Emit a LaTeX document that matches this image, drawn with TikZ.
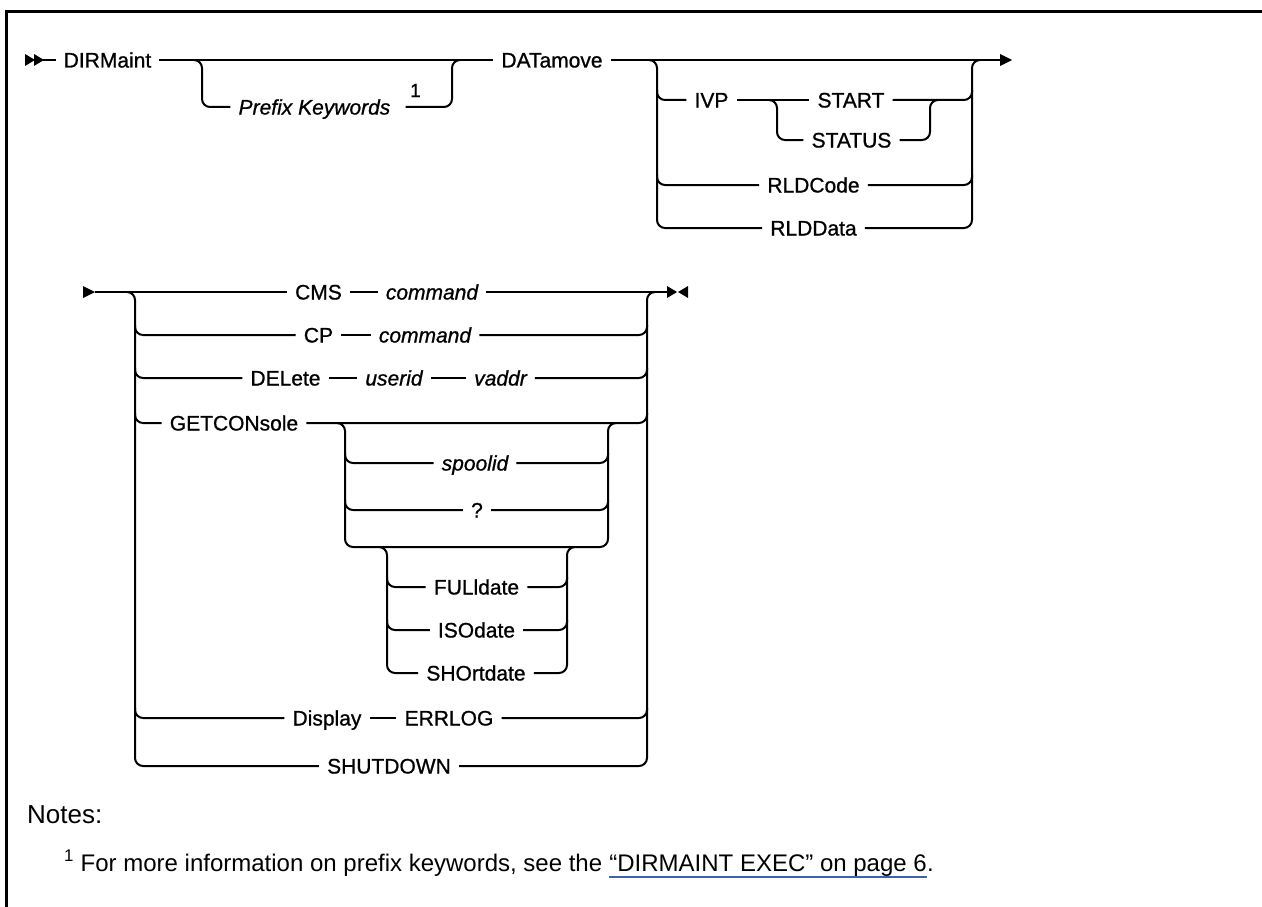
\documentclass[tikz,border=0pt]{standalone}
\usepackage{fontspec}
\setmainfont{Liberation Sans}
\newfontfamily\railfont{Liberation Sans}[FakeBold=0.9]

\definecolor{linkblue}{RGB}{62,98,178}

\tikzset{
  rail/.style={line width=2pt, rounded corners=8pt},
  kw/.style={font=\railfont\fontsize{21}{25}\selectfont, inner xsep=8pt, inner ysep=0pt,
    text height=15pt, text depth=0pt},
  var/.style={kw, font=\railfont\fontsize{21}{25}\selectfont\itshape},
  note/.style={inner sep=0pt, anchor=base west},
  tip/.style={fill=black},
}

\begin{document}
\begin{tikzpicture}[x=1pt, y=-1pt]
\useasboundingbox (0,0) rectangle (1262,907);

% frame
\draw[line width=3pt] (6,907) -- (6,12) -- (1262,12);

% first line
\fill[tip] (25,54) -- (35,60) -- (25,66) -- cycle;
\fill[tip] (34,54) -- (44,60) -- (34,66) -- cycle;
\coordinate (s1) at (43,60);
\coordinate (e1) at (1000,60);
\fill[tip] (1000,54) -- (1012,60) -- (1000,66) -- cycle;

\node[kw] (dirm) at (107.5,60) {DIRMaint};
\node[var] (pk) at (314.5,107) {Prefix Keywords};
\node[inner sep=0pt, anchor=base west, font=\railfont\fontsize{19}{22}\selectfont] (fn1) at (410,97) {1};
\node[kw] (datm) at (552,60) {DATamove};
\node[kw] (ivp) at (711.5,100) {IVP};
\node[kw] (start) at (851,100) {START};
\node[kw] (status) at (851.5,140) {STATUS};
\node[kw] (rldc) at (813.5,185) {RLDCode};
\node[kw] (rldd) at (813.5,228) {RLDData};

\draw[rail] (s1) -- (dirm.west);
\draw[rail] (dirm.east) -- (datm.west);
\draw[rail] (194,60) -- (202,60) -- (202,107) -- (pk.west);
\draw[rail] ([xshift=7pt]pk.east) -- (452,107) -- (452,60) -- (460,60);
\draw[rail] (datm.east) -- (e1);

\draw[rail] (649,60) -- (657,60) -- (657,228) -- (rldd.west);
\draw[rail] (657,90) |- (ivp.west);
\draw[rail] (657,175) |- (rldc.west);
\draw[rail] (ivp.east) -- (start.west);
\draw[rail] (769,100) -- (777,100) -- (777,140) -- (status.west);
\draw[rail] (status.east) -- (930,140) -- (930,100) -- (938,100);
\draw[rail] (start.east) -| (972,90);
\draw[rail] (rldc.east) -| (972,175);
\draw[rail] (rldd.east) -- (972,228) -- (972,60) -- (980,60);

% second line
\fill[tip] (83,286) -- (95,292) -- (83,298) -- cycle;
\coordinate (s2) at (95,292);
\coordinate (e2) at (667,292);
\fill[tip] (667,286) -- (677,292) -- (667,298) -- cycle;
\fill[tip] (688,286) -- (678,292) -- (688,298) -- cycle;

\node[kw] (cms) at (318.5,292) {CMS};
\node[var] (cmd1) at (432,292) {command};
\node[kw] (cp) at (318.5,335) {CP};
\node[var] (cmd2) at (425,335) {command};
\node[kw] (del) at (285.5,378) {DELete};
\node[var] (uid) at (394,378) {userid};
\node[var] (vad) at (500.5,378) {vaddr};
\node[kw] (getc) at (234,423) {GETCONsole};
\node[var] (spl) at (475,463) {spoolid};
\node[kw] (qm) at (477,510) {?};
\node[kw] (ful) at (476.5,587) {FULldate};
\node[kw] (iso) at (476.5,630) {ISOdate};
\node[kw] (sho) at (476,673) {SHOrtdate};
\node[kw] (disp) at (327,718) {Display};
\node[kw] (errl) at (449,718) {ERRLOG};
\node[kw] (shut) at (389,766) {SHUTDOWN};

\draw[rail] (s2) -- (cms.west);
\draw[rail] (cms.east) -- (cmd1.west);
\draw[rail] (cmd1.east) -- (e2);
\draw[rail] (cp.east) -- (cmd2.west);
\draw[rail] (del.east) -- (uid.west);
\draw[rail] (uid.east) -- (vad.west);
\draw[rail] (disp.east) -- (errl.west);

\draw[rail] (127,292) -- (135,292) -- (135,766) -- (shut.west);
\foreach \n/\y in {cp/325, del/368, getc/413, disp/708}
  \draw[rail] (135,\y) |- (\n.west);
\draw[rail] (shut.east) -- (647,766) -- (647,292) -- (655,292);
\foreach \n/\y in {cmd2/325, vad/368, getc/413, errl/708}
  \draw[rail] (\n.east) -| (647,\y);

% getconsole options
\draw[rail] (337,423) -- (345,423) -- (345,547) -- (608,547) -- (608,423) -- (616,423);
\foreach \n/\y in {spl/453, qm/500} {
  \draw[rail] (345,\y) |- (\n.west);
  \draw[rail] (\n.east) -| (608,\y);
}
\draw[rail] (379,547) -- (387,547) -- (387,673) -- (sho.west);
\draw[rail] (sho.east) -- (567,673) -- (567,547) -- (575,547);
\foreach \n/\y in {ful/577, iso/620} {
  \draw[rail] (387,\y) |- (\n.west);
  \draw[rail] (\n.east) -| (567,\y);
}

% notes
\node[note, font=\fontsize{26}{30}\selectfont] (notes) at (27,823) {Notes:};
\node[note, font=\fontsize{24}{28}\selectfont] (fn) at (64,871)
  {\textsuperscript{1} For more information on prefix keywords, see the};
\node[note, font=\fontsize{24}{28}\selectfont] (lnk) at ([xshift=6.7pt]fn.base east)
  {“DIRMAINT EXEC” on page 6};
\node[note, font=\fontsize{24}{28}\selectfont] (dot) at (lnk.base east) {.};
\draw[linkblue, line width=1.5pt] ([yshift=-6pt]lnk.base west) -- ([yshift=-6pt]lnk.base east);

\end{tikzpicture}
\end{document}
